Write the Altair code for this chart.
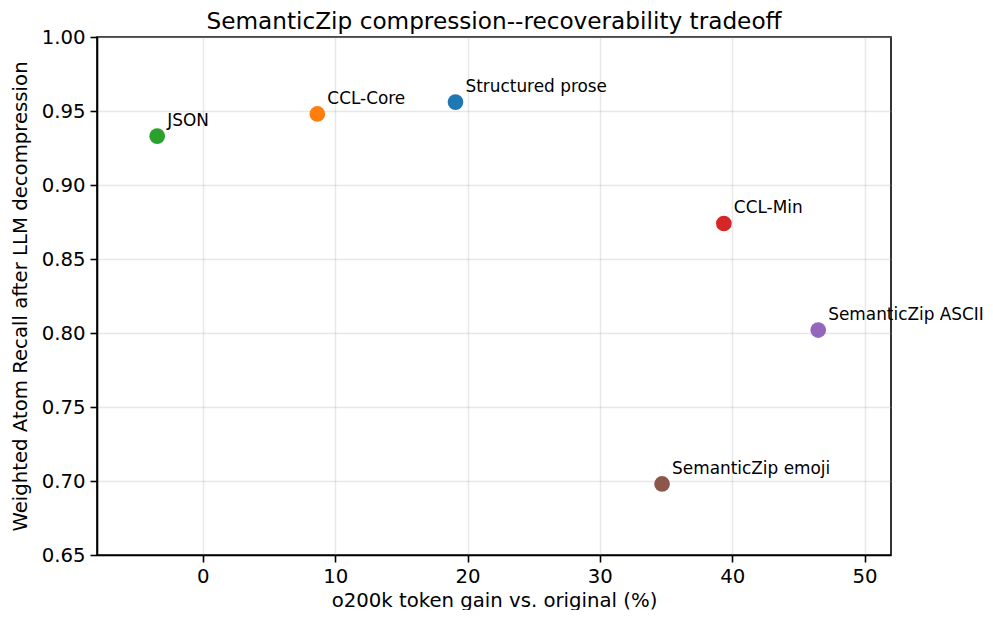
import altair as alt
import pandas as pd

methods = ["Structured prose", "CCL-Core", "JSON", "CCL-Min", "SemanticZip ASCII", "SemanticZip emoji"]
token_gain = [19.09, 8.65, -3.45, 39.37, 46.5, 34.7]
recall = [0.956, 0.948, 0.933, 0.874, 0.802, 0.698]
colors = ["#1f77b4", "#ff7f0e", "#2ca02c", "#d62728", "#9467bd", "#8c564b"]

df = pd.DataFrame({"method": methods, "gain": token_gain, "recall": recall})

FONT = "DejaVu Sans"

x_enc = alt.X(
    "gain:Q",
    scale=alt.Scale(domain=[-8, 52], nice=False, zero=False),
    axis=alt.Axis(
        title="o200k token gain vs. original (%)",
        values=[0, 10, 20, 30, 40, 50],
        format="d",
        labelBaseline="alphabetic",
        labelPadding=20,
        titleBaseline="alphabetic",
        titleY=51,
    ),
)
y_enc = alt.Y(
    "recall:Q",
    scale=alt.Scale(domain=[0.65, 1.0], nice=False, zero=False),
    axis=alt.Axis(
        title="Weighted Atom Recall after LLM decompression",
        values=[0.65, 0.70, 0.75, 0.80, 0.85, 0.90, 0.95, 1.00],
        format=".2f",
        labelPadding=5,
        titleAngle=270,
        titleBaseline="alphabetic",
        titleX=-71,
        titleY=259,
    ),
)
color_enc = alt.Color("method:N", scale=alt.Scale(domain=methods, range=colors), legend=None)

points = alt.Chart(df).mark_circle(size=246, opacity=1).encode(x=x_enc, y=y_enc, color=color_enc)
labels = alt.Chart(df).mark_text(
    align="left", baseline="alphabetic", dx=10, dy=-10, font=FONT, fontSize=16.9, color="black"
).encode(x="gain:Q", y="recall:Q", text="method:N")

chart = (
    alt.layer(points, labels)
    .properties(
        width=794,
        height=518,
        autosize=alt.AutoSizeParams(type="none"),
        padding={"left": 89, "top": 29, "right": 94, "bottom": 55},
        title=alt.TitleParams(
            "SemanticZip compression--recoverability tradeoff",
            font=FONT,
            fontSize=23.2,
            fontWeight="normal",
            color="black",
            anchor="middle",
            offset=2,
            dy=9,
        ),
    )
    .configure_view(stroke="black", strokeWidth=1.6)
    .configure_axis(
        labelFont=FONT,
        labelFontSize=19.7,
        labelColor="black",
        titleFont=FONT,
        titleFontSize=19.7,
        titleFontWeight="normal",
        titleColor="black",
        domainColor="black",
        domainWidth=1.6,
        tickColor="black",
        tickWidth=1.6,
        tickSize=7,
        grid=True,
        gridColor="#b0b0b0",
        gridOpacity=0.3,
        gridWidth=1.4,
    )
)

chart.save("out.html", embed_options={"renderer": "svg", "actions": False})
